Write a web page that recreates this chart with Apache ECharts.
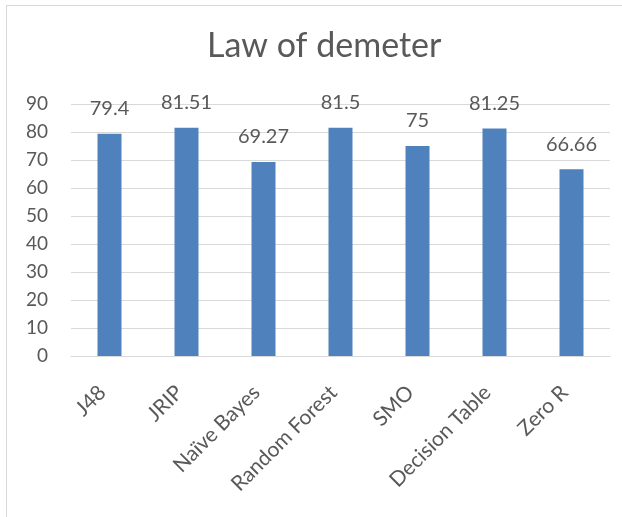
<!DOCTYPE html>
<html>
<head>
<meta charset="utf-8">
<script src="https://cdn.jsdelivr.net/npm/echarts@6/dist/echarts.min.js"></script>
<style>
  html, body { margin: 0; padding: 0; background: #ffffff; }
  #chart { width: 622px; height: 517px; }
</style>
</head>
<body>
<div id="chart"></div>
<script>
// Classifier accuracy (%) for the "Law of demeter" dataset
const categories = ['J48', 'JRIP', 'Naïve Bayes', 'Random Forest', 'SMO', 'Decision Table', 'Zero R'];
const accuracy = [79.4, 81.51, 69.27, 81.5, 75, 81.25, 66.66];
const yTicks = { min: 0, max: 90, interval: 10 };

const textColor = '#595959';
const fontFamily = 'Lato, "Open Sans", sans-serif';

const chart = echarts.init(document.getElementById('chart'), null, { renderer: 'canvas' });

chart.setOption({
  animation: false,
  backgroundColor: '#ffffff',
  title: {
    text: 'Law of demeter',
    left: 202,
    top: 24,
    textStyle: { color: textColor, fontFamily, fontSize: 34, fontWeight: 'normal' }
  },
  grid: { left: 71, right: 12, top: 104, bottom: 161, containLabel: false },
  xAxis: {
    type: 'category',
    data: categories,
    axisLine: { show: true, lineStyle: { color: '#d9d9d9', width: 1 } },
    axisTick: { show: false },
    axisLabel: {
      rotate: 45,
      margin: 26,
      padding: [0, 10, 0, 0],
      color: textColor,
      fontFamily,
      fontSize: 21,
      interval: 0
    }
  },
  yAxis: {
    type: 'value',
    min: yTicks.min,
    max: yTicks.max,
    interval: yTicks.interval,
    axisLine: { show: false },
    axisTick: { show: false },
    splitLine: { lineStyle: { color: '#d9d9d9', width: 1 } },
    axisLabel: { color: textColor, fontFamily, fontSize: 19, margin: 23 }
  },
  series: [{
    type: 'bar',
    data: accuracy,
    barWidth: 24,
    itemStyle: { color: '#4f81bd' },
    label: {
      show: true,
      position: 'top',
      distance: 15,
      color: textColor,
      fontFamily,
      fontSize: 20
    }
  }],
  graphic: [
    // frame lines along the top and left edges
    { type: 'line', shape: { x1: 6, y1: 5.5, x2: 622, y2: 5.5 }, style: { stroke: '#d9d9d9', lineWidth: 1 } },
    { type: 'line', shape: { x1: 6.5, y1: 5, x2: 6.5, y2: 517 }, style: { stroke: '#d9d9d9', lineWidth: 1 } }
  ]
});
</script>
</body>
</html>
